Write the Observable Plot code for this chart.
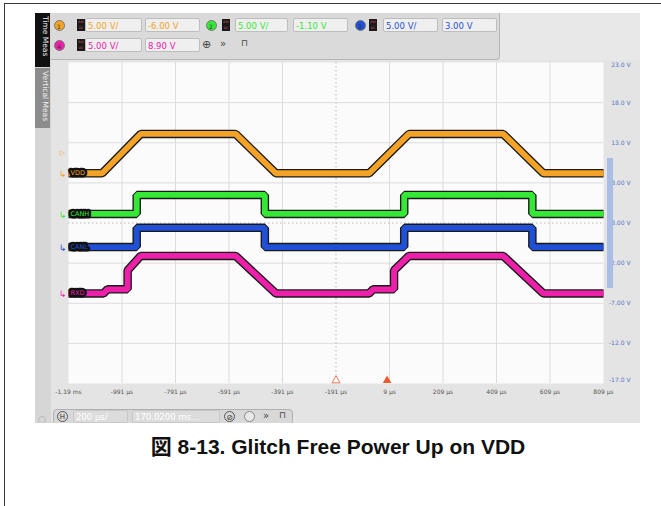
<!DOCTYPE html>
<html>
<head>
<meta charset="utf-8">
<script src="https://cdn.jsdelivr.net/npm/d3@7"></script>
<script src="https://cdn.jsdelivr.net/npm/@observablehq/plot@0.6"></script>
<style>
  body { margin:0; width:661px; height:506px; position:relative; overflow:hidden; background:#fff; font-family:"DejaVu Sans", sans-serif; }
  #frame { position:absolute; left:4px; top:3px; width:720px; height:620px; border:1.5px solid #3a3a3a; box-sizing:border-box; }
  #scope { position:absolute; left:35px; top:13px; width:605px; height:410px; background:#E4E4E4; overflow:hidden; }
  #scope svg { position:absolute; left:0; top:0; }
  .abs { position:absolute; }
  .box { position:absolute; height:14px; background:#EFEFEF; border:1px solid #BDBDBD; border-radius:2px; font-size:8.5px; line-height:14px; padding-left:2px; box-sizing:border-box; white-space:nowrap; }
  .circ { position:absolute; width:11px; height:11px; border-radius:50%; font-size:6px; line-height:11px; text-align:center; color:#333; border:1px solid #777; box-sizing:border-box; }
  .icon { position:absolute; width:8px; height:12px; background:#1a1a1a; font-size:3px; line-height:6px; color:#d55; text-align:center; }
  .tab { position:absolute; writing-mode:vertical-rl; font-size:7.5px; text-align:left; padding-top:3px; box-sizing:border-box; }
  .glyph { position:absolute; font-size:10px; color:#444; }
  #caption { position:absolute; left:0; top:430px; width:676px; text-align:center; font-family:"Liberation Sans", Arial, "Noto Sans CJK JP", sans-serif; font-weight:bold; font-size:21px; color:#111; }
</style>
</head>
<body>
<div id="frame"></div>
<div id="scope">
  <div id="plot"></div>
  <!-- left tab strip -->
  <div class="abs" style="left:0;top:0;width:16px;height:410px;background:#D6D6D6;"></div>
  <div class="tab" style="left:0;top:0;width:15px;height:54px;background:#111;color:#eee;">Time Meas</div>
  <div class="tab" style="left:0;top:55px;width:15px;height:60px;background:#8C8C8C;color:#f2f2f2;">Vertical Meas</div>
  <!-- top toolbar -->
  <div class="abs" style="left:16px;top:0;width:449px;height:47px;background:#DADADA;border:1px solid #B5B5B5;border-top:none;border-left:none;border-radius:0 0 4px 0;box-sizing:border-box;"></div>
  <div class="abs" style="left:465px;top:0;width:140px;height:47px;background:#E8E8E8;"></div>
  <div id="toolbar"></div>
  <!-- bottom toolbar -->
  <div class="abs" style="left:18px;top:396px;width:240px;height:16px;background:#D8D8D8;border:1px solid #B0B0B0;border-radius:4px;box-sizing:border-box;"></div>
  <div class="circ" style="left:3px;top:403px;width:8px;height:8px;border-color:#bbb;"></div>
  <div class="circ" style="left:22px;top:398px;font-size:7px;border-color:#555;">H</div>
  <div class="box" style="left:38px;top:397px;width:55px;height:13px;line-height:13px;color:#fff;background:#DCDCDC;border-color:#C8C8C8;">200 µs/</div>
  <div class="box" style="left:97px;top:397px;width:88px;height:13px;line-height:13px;color:#fff;background:#DCDCDC;border-color:#C8C8C8;">170.0200 ms…</div>
  <div class="circ" style="left:189px;top:398px;font-size:8px;border-color:#555;">⊘</div>
  <div class="circ" style="left:209px;top:398px;border-color:#888;background:#e8e8e8;"></div>
  <div class="glyph" style="left:228px;top:397px;">»</div>
  <div class="glyph" style="left:244px;top:397px;font-size:9px;">⊓</div>
  <!-- channel selection bar on the right -->
  <div class="abs" style="left:572px;top:145px;width:6px;height:130px;background:#A9BDE6;"></div>
</div>
<div id="caption">図 8-13. Glitch Free Power Up on VDD</div>
<script>
// ---- axis ticks ----
const timeTicks = [-1191, -991, -791, -591, -391, -191, 9, 209, 409, 609, 809];
const timeTickLabels = ["-1.19 ms","-991 µs","-791 µs","-591 µs","-391 µs","-191 µs","9 µs","209 µs","409 µs","609 µs","809 µs"];
const voltTicks = [23, 18, 13, 8, 3, -2, -7, -12, -17];
const voltTickLabels = ["23.0 V","18.0 V","13.0 V","8.00 V","3.00 V","-2.00 V","-7.00 V","-12.0 V","-17.0 V"];

// ---- channels ----
const channelNames = ["VDD", "CANH", "CANL", "RXD"];
const channelColors = ["#F4A326", "#35E835", "#1F50D6", "#EE20AA"];
const channelScale = ["5.00 V/", "5.00 V/", "5.00 V/", "5.00 V/"];
const channelOffset = ["-6.00 V", "-1.10 V", "3.00 V", "8.90 V"];

// ---- traces (time in µs, displayed volts) ----
const vddTime = [-1191, -1065, -921, -566, -416, -67, 82, 434, 584, 809];
const vddVolt = [9.2, 9.2, 14.1, 14.1, 9.2, 9.2, 14.1, 14.1, 9.2, 9.2];
const canhTime = [-1191, -936, -936, -457, -457, 64, 64, 543, 543, 809];
const canhVolt = [4.13, 4.13, 6.5, 6.5, 4.13, 4.13, 6.5, 6.5, 4.13, 4.13];
const canlTime = [-1191, -936, -936, -457, -457, 64, 64, 543, 543, 809];
const canlVolt = [0.0, 0.0, 2.4, 2.4, 0.0, 0.0, 2.4, 2.4, 0.0, 0.0];
const rxdTime = [-1191, -1060, -1045, -970, -970, -921, -566, -416, -67, -52, 26, 26, 82, 434, 584, 809];
const rxdVolt = [-5.77, -5.77, -5.27, -5.27, -2.9, -1.1, -1.1, -5.77, -5.77, -5.27, -5.27, -2.9, -1.1, -1.1, -5.77, -5.77];

const groundLevels = [9.2, 4.13, 0.0, -5.77];
const triggerLevel = 11.7;
const triggerTimes = [-191, 0];

const series = [
  {t: vddTime, v: vddVolt},
  {t: canhTime, v: canhVolt},
  {t: canlTime, v: canlVolt},
  {t: rxdTime, v: rxdVolt}
].map((s, i) => ({rows: s.t.map((t, j) => ({t, v: s.v[j]})), color: channelColors[i], name: channelNames[i], ground: groundLevels[i]}));

const gridX = timeTicks.slice(1, -1).filter(d => d !== -191);
const gridY = voltTicks.slice(1, -1).filter(d => d !== 3);

const chart = Plot.plot({
  width: 605, height: 410,
  marginLeft: 33, marginRight: 37, marginTop: 49, marginBottom: 40,
  x: {domain: [-1191, 809], axis: null},
  y: {domain: [-17, 23], axis: null},
  style: {background: "transparent", fontFamily: "DejaVu Sans, sans-serif"},
  marks: [
    Plot.frame({fill: "#FBFBFB", stroke: null}),
    Plot.ruleX(gridX, {stroke: "#DCDCDC", strokeWidth: 1}),
    Plot.ruleY(gridY, {stroke: "#DCDCDC", strokeWidth: 1}),
    Plot.ruleX([-191], {stroke: "#B8B8B8", strokeWidth: 1, strokeDasharray: "1.5,2.5"}),
    Plot.ruleY([3], {stroke: "#B8B8B8", strokeWidth: 1, strokeDasharray: "1.5,2.5"}),
    ...series.map(s => Plot.line(s.rows, {x: "t", y: "v", stroke: "#1a1a1a", strokeWidth: 8.5, strokeLinejoin: "miter", strokeLinecap: "butt"})),
    ...series.map(s => Plot.line(s.rows, {x: "t", y: "v", stroke: s.color, strokeWidth: 5.8, strokeLinejoin: "miter", strokeLinecap: "butt"})),
    // channel labels at left edge of the graticule
    ...series.map(s => Plot.text([s.name], {y: () => s.ground, text: d => d, frameAnchor: "left", textAnchor: "start", dx: 2, fontSize: 6.5, fill: s.color, stroke: "#111", strokeWidth: 5, strokeLinejoin: "round"})),
    // ground markers left of graticule
    ...series.map(s => Plot.text(["↳"], {y: () => s.ground, text: d => d, frameAnchor: "left", textAnchor: "middle", dx: -6, dy: 1, fontSize: 9, fill: s.color})),
    Plot.text(["▷"], {y: () => triggerLevel, text: d => d, frameAnchor: "left", textAnchor: "middle", dx: -6, fontSize: 7, fill: "#F4A326"}),
    // trigger position markers
    Plot.dot([triggerTimes[0]], {x: d => d, frameAnchor: "bottom", dy: -3, symbol: "triangle", r: 3, fill: "#fff", stroke: "#F07856", strokeWidth: 1}),
    Plot.dot([triggerTimes[1]], {x: d => d, frameAnchor: "bottom", dy: -3, symbol: "triangle", r: 3.2, fill: "#F05A28", stroke: "none"}),
    // time axis labels
    Plot.text(timeTicks, {x: d => d, text: (d, i) => timeTickLabels[i], frameAnchor: "bottom", dy: 10, fontSize: 6, fill: "#555"}),
    // voltage axis labels (right)
    Plot.text(voltTicks.slice(1, -1), {y: d => d, text: (d, i) => voltTickLabels[i + 1], frameAnchor: "right", textAnchor: "end", dx: 27, fontSize: 6, fill: "#5477C4"}),
    Plot.text([voltTicks[0]], {y: d => d, text: () => voltTickLabels[0], frameAnchor: "right", textAnchor: "end", dx: 27, dy: 3, fontSize: 6, fill: "#5477C4"}),
    Plot.text([voltTicks[voltTicks.length - 1]], {y: d => d, text: () => voltTickLabels[voltTickLabels.length - 1], frameAnchor: "right", textAnchor: "end", dx: 27, dy: -3, fontSize: 6, fill: "#5477C4"})
  ]
});
document.getElementById("plot").appendChild(chart);

// ---- top toolbar (channel settings) ----
const tb = document.getElementById("toolbar");
const layout = [
  {ch: 0, cx: 24, cy: 12, icon: 42, b1: 50, w1: 57, b2: 110, w2: 55},
  {ch: 1, cx: 176, cy: 12, icon: 187, b1: 200, w1: 53, b2: 258, w2: 55},
  {ch: 2, cx: 325, cy: 12, icon: 334, b1: 348, w1: 55, b2: 407, w2: 55},
  {ch: 3, cx: 24, cy: 32, icon: 42, b1: 50, w1: 57, b2: 110, w2: 55}
];
layout.forEach(l => {
  const c = channelColors[l.ch];
  tb.insertAdjacentHTML("beforeend",
    `<div class="circ" style="left:${l.cx - 5.5}px;top:${l.cy - 5.5}px;background:${c};">${l.ch + 1}</div>` +
    `<div class="icon" style="left:${l.icon}px;top:${l.cy - 6}px;">BIO<br>DC</div>` +
    `<div class="box" style="left:${l.b1}px;top:${l.cy - 7}px;width:${l.w1}px;color:${c};">${channelScale[l.ch]}</div>` +
    `<div class="box" style="left:${l.b2}px;top:${l.cy - 7}px;width:${l.w2}px;color:${c};">${channelOffset[l.ch]}</div>`);
});
tb.insertAdjacentHTML("beforeend",
  `<div class="glyph" style="left:167px;top:25px;font-size:11px;">⊕</div>` +
  `<div class="glyph" style="left:185px;top:25px;">»</div>` +
  `<div class="glyph" style="left:206px;top:25px;font-size:9px;">⊓</div>`);
</script>
</body>
</html>
